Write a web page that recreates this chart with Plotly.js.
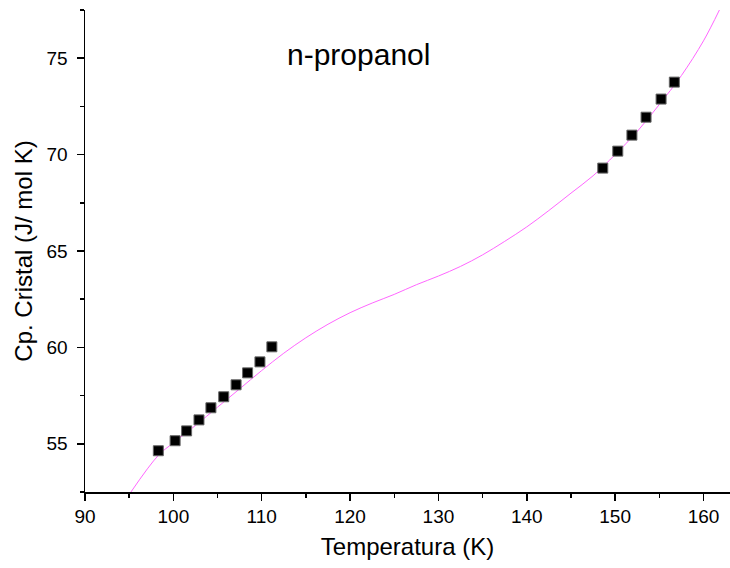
<!DOCTYPE html>
<html>
<head>
<meta charset="utf-8">
<script src="https://cdn.plot.ly/plotly-3.0.1.min.js"></script>
<style>html,body{margin:0;padding:0;background:#fff;}#chart{width:730px;height:568px;}</style>
</head>
<body>
<div id="chart"></div>
<script>
// Measured points (crystal Cp)
var tempMeasured = [98.3, 100.2, 101.5, 102.9, 104.25, 105.7, 107.1, 108.4, 109.8, 111.15,
                    148.6, 150.3, 151.9, 153.5, 155.2, 156.7];
var cpMeasured = [54.64, 55.16, 55.67, 56.24, 56.87, 57.44, 58.06, 58.68, 59.25, 60.03,
                  69.30, 70.18, 71.01, 71.94, 72.88, 73.76];
// Fitted curve
var tempFit = [95.2, 98.3, 100, 102.5, 105, 107.5, 110, 112.5, 115, 117.5, 120, 122.5, 125, 127.5,
               130, 132.5, 135, 137.5, 140, 142.5, 145, 147.5, 150, 152.5, 155, 157.5, 160, 161.8];
var cpFit = [52.5, 54.4, 55.05, 55.95, 56.9, 57.85, 58.8, 59.7, 60.5, 61.2, 61.8, 62.3, 62.75, 63.25,
             63.7, 64.2, 64.8, 65.5, 66.25, 67.1, 68.0, 68.9, 70.0, 71.2, 72.6, 74.1, 75.9, 77.5];

var fam = 'Liberation Sans, Arial, sans-serif';

var traces = [
  {x: tempFit, y: cpFit, mode: 'lines', type: 'scatter', line: {color: '#ff66ff', width: 1, shape: 'spline', smoothing: 1}, hoverinfo: 'skip'},
  {x: tempMeasured, y: cpMeasured, mode: 'markers', type: 'scatter',
   marker: {symbol: 'square', size: 10, color: '#000', line: {color: '#666', width: 1}}}
];

var layout = {
  width: 730, height: 568,
  margin: {l: 85, r: 0, t: 10, b: 76},
  paper_bgcolor: '#fff', plot_bgcolor: '#fff',
  showlegend: false,
  font: {family: fam, size: 19, color: '#000'},
  xaxis: {
    range: [90, 163], dtick: 10, tick0: 90, automargin: false,
    showgrid: false, zeroline: false,
    showline: true, linecolor: '#000', linewidth: 1.5,
    ticks: 'outside', ticklen: 7, tickwidth: 1.5, tickcolor: '#000',
    minor: {dtick: 5, ticks: 'outside', ticklen: 4, tickwidth: 1.5, tickcolor: '#000', showgrid: false},
    tickfont: {family: fam, size: 19, color: '#000'},
    title: {text: 'Temperatura (K)', font: {family: fam, size: 24, color: '#000'}, standoff: 12}
  },
  yaxis: {
    range: [52.5, 77.5], dtick: 5, tick0: 55, automargin: false,
    showgrid: false, zeroline: false,
    showline: true, linecolor: '#000', linewidth: 1.5,
    ticks: 'outside', ticklen: 7, tickwidth: 1.5, tickcolor: '#000', ticklabelstandoff: 5,
    minor: {dtick: 2.5, ticks: 'outside', ticklen: 4, tickwidth: 1.5, tickcolor: '#000', showgrid: false},
    tickfont: {family: fam, size: 19, color: '#000'},
    title: {text: 'Cp. Cristal (J/ mol K)', font: {family: fam, size: 24, color: '#000'}, standoff: 7}
  },
  annotations: [{
    text: 'n-propanol', xref: 'paper', yref: 'paper', x: 0.424, y: 0.907, yanchor: 'middle',
    showarrow: false, font: {family: fam, size: 30, color: '#000'}
  }]
};

Plotly.newPlot('chart', traces, layout, {displayModeBar: false, staticPlot: true});
</script>
</body>
</html>
